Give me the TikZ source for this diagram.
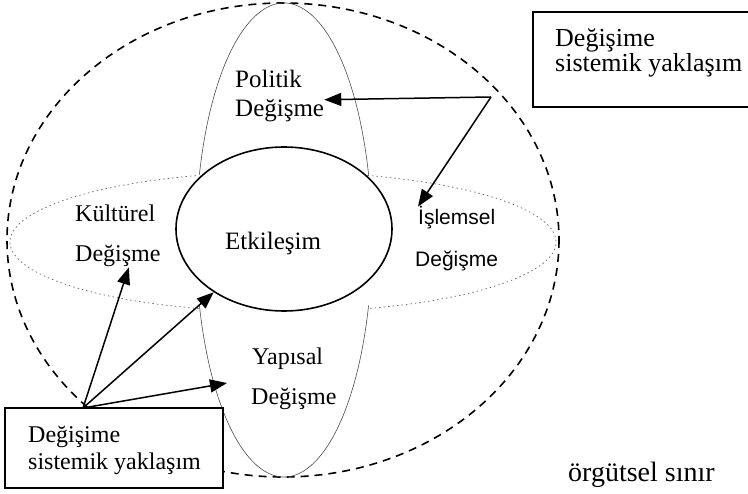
\documentclass[tikz,border=0pt]{standalone}
\usepackage{fontspec}
\setmainfont{Liberation Serif}
\setsansfont{Liberation Sans}
\usetikzlibrary{arrows.meta,shapes.geometric}

\begin{document}
\begin{tikzpicture}[x=1pt,y=-1pt,
    yazi/.style={anchor=base west,inner sep=0pt,font=\fontsize{24}{28}\selectfont},
    buyuk/.style={yazi,font=\fontsize{25}{29}\selectfont},
    duz/.style={yazi,font=\sffamily\fontsize{21}{25}\selectfont},
    kutu/.style={draw,fill=white,line width=1.3pt,inner sep=0pt},
    ok/.style={line width=1.5pt,-{Triangle[length=17pt,width=13pt]}},
    lob/.style={black!70,line width=0.6pt},
    noktali/.style={black!60,line width=0.7pt,dash pattern=on 1.5pt off 3pt}]
    \useasboundingbox (0,0) rectangle (748,494);
    \draw[line width=1.6pt,dash pattern=on 8pt off 6pt] (283,240) ellipse (276 and 237);
    \draw[noktali] (283,242) ++(-72:273 and 70) arc (-72:72:273 and 70);
    \draw[noktali] (283,242) ++(108:273 and 70) arc (108:252:273 and 70);
    \draw[lob] (284,240) ++(196:88 and 237) arc (196:344:88 and 237);
    \draw[lob] (284,240) ++(16:88 and 237) arc (16:164:88 and 237);
    \node[draw,ellipse,line width=1.6pt,minimum width=216pt,minimum height=164pt] (etk) at (284,229) {};
    \node[buyuk] (pol1) at (235,88) {Politik};
    \node[buyuk] (pol2) at (235,117) {Değişme};
    \node[yazi] (kul1) at (75,222) {Kültürel};
    \node[yazi] (kul2) at (75,262) {Değişme};
    \node[buyuk] (etktxt) at (225,250) {Etkileşim};
    \node[duz] (isl1) at (418,225) {İşlemsel};
    \node[duz] (isl2) at (415,267) {Değişme};
    \node[yazi] (yap1) at (252,365) {Yapısal};
    \node[yazi] (yap2) at (251,405) {Değişme};
    \node[kutu,minimum width=218pt,minimum height=80pt] (kutu1) at (114,448) {};
    \node[yazi] (k1a) at (28,443) {Değişime};
    \node[yazi] (k1b) at (28,470) {sistemik yaklaşım};
    \node[kutu,minimum width=220pt,minimum height=95pt] (kutu2) at (643,59.5) {};
    \node[buyuk,font=\fontsize{26}{30}\selectfont] (k2a) at (555,47) {Değişime};
    \node[buyuk,font=\fontsize{26}{30}\selectfont] (k2b) at (555,72) {sistemik yaklaşım};
    \node[yazi,font=\fontsize{28}{32}\selectfont] (sinir) at (568,482) {örgütsel sınır};
    \coordinate (k1) at (83,408);
    \coordinate (k2) at (491,97);
    \coordinate (yapuc) at (227,383);
    \draw[ok] (k2) -- (pol2.north east);
    \draw[ok] (k2) -- (isl1.north west);
    \draw[ok] (k1) -- (kul2.-45);
    \draw[ok] (k1) -- (etk.222);
    \draw[ok] (k1) -- (yapuc);
  \end{tikzpicture}
\end{document}
